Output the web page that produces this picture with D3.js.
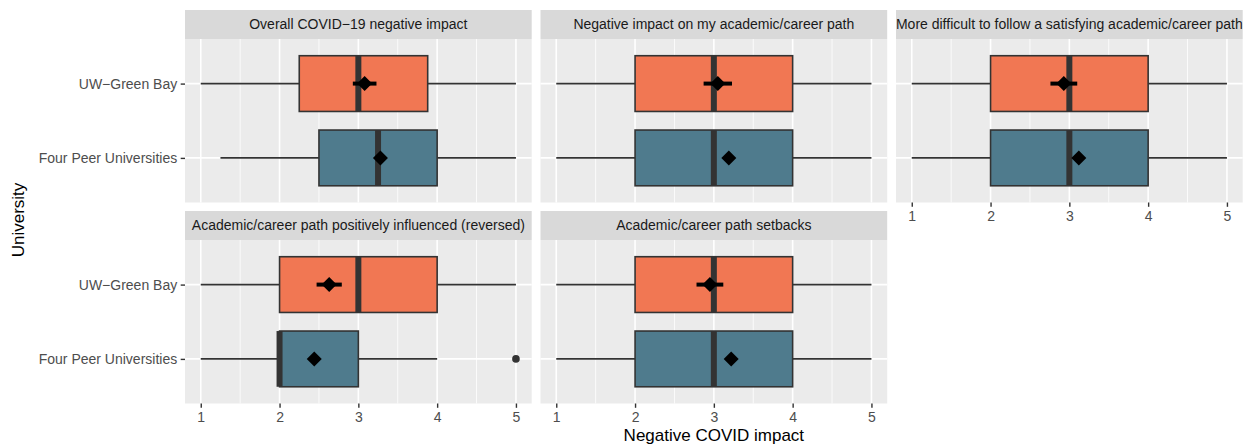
<!DOCTYPE html>
<html><head><meta charset="utf-8">
<script src="https://cdn.jsdelivr.net/npm/d3@7"></script>
<style>body{margin:0;background:#fff}svg{font-family:"Liberation Sans",Arial,Helvetica,sans-serif}</style>
</head><body><svg id="c" width="1250" height="445"></svg>
<script>
const panelTitles = [
  "Overall COVID\u221219 negative impact",
  "Negative impact on my academic/career path",
  "More difficult to follow a satisfying academic/career path",
  "Academic/career path positively influenced (reversed)",
  "Academic/career path setbacks"
];
const universities = ["UW\u2212Green Bay", "Four Peer Universities"];
const fillColors = ["#F17753", "#4F7B8D"];
const xTicks = [1, 2, 3, 4, 5];
const xMinor = [1.5, 2.5, 3.5, 4.5];
// per panel: [UW-Green Bay, Four Peer Universities]
const whiskerLow  = [[1, 1.25], [1, 1], [1, 1], [1, 1], [1, 1]];
const q1          = [[2.25, 2.5], [2, 2], [2, 2], [2, 2], [2, 2]];
const median      = [[3, 3.25], [3, 3], [3, 3], [3, 2], [3, 3]];
const q3          = [[3.88, 4], [4, 4], [4, 4], [4, 3], [4, 4]];
const whiskerHigh = [[5, 5], [5, 5], [5, 5], [5, 4], [5, 5]];
const meanVal     = [[3.08, 3.28], [3.05, 3.19], [2.93, 3.12], [2.63, 2.44], [2.95, 3.22]];
const ciLow       = [[2.93, 3.23], [2.87, 3.14], [2.76, 3.07], [2.47, 2.39], [2.78, 3.17]];
const ciHigh      = [[3.23, 3.33], [3.23, 3.24], [3.10, 3.17], [2.79, 2.49], [3.12, 3.27]];
const outliers    = [[[], []], [[], []], [[], []], [[], [5]], [[], []]];

const svg = d3.select("#c");
const leftX = 185, panelW = 346.7, gapX = 8.8, topY = 10, stripH = 29, plotH = 163.5, gapY = 8.5;
const nCols = 3;
const fontSize = 14;
const defs = svg.append("defs");

panelTitles.forEach((title, i) => {
  const col = i % nCols, row = Math.floor(i / nCols);
  const px = leftX + col * (panelW + gapX);
  const sy = topY + row * (stripH + plotH + gapY);
  const py = sy + stripH;
  const x = d3.scaleLinear().domain([0.8, 5.2]).range([px, px + panelW]);
  const y = d3.scalePoint().domain(universities).range([py, py + plotH]).padding(0.6);
  const boxH = y.step() * 0.75;
  const g = svg.append("g");

  defs.append("clipPath").attr("id", "clip" + i).append("rect")
    .attr("x", px).attr("y", sy).attr("width", panelW).attr("height", stripH);
  g.append("rect").attr("x", px).attr("y", sy).attr("width", panelW).attr("height", stripH).attr("fill", "#D9D9D9");
  g.append("text").attr("clip-path", "url(#clip" + i + ")")
    .attr("x", px + panelW / 2).attr("y", sy + stripH / 2).attr("dy", "0.35em")
    .attr("text-anchor", "middle").attr("font-size", fontSize).attr("fill", "#1A1A1A").text(title);

  g.append("rect").attr("x", px).attr("y", py).attr("width", panelW).attr("height", plotH).attr("fill", "#EBEBEB");
  g.selectAll(".minor").data(xMinor).join("line")
    .attr("x1", d => x(d)).attr("x2", d => x(d)).attr("y1", py).attr("y2", py + plotH)
    .attr("stroke", "#fff").attr("stroke-width", 0.8);
  g.selectAll(".major").data(xTicks).join("line")
    .attr("x1", d => x(d)).attr("x2", d => x(d)).attr("y1", py).attr("y2", py + plotH)
    .attr("stroke", "#fff").attr("stroke-width", 1.6);
  g.selectAll(".ymajor").data(universities).join("line")
    .attr("x1", px).attr("x2", px + panelW).attr("y1", d => y(d)).attr("y2", d => y(d))
    .attr("stroke", "#fff").attr("stroke-width", 1.6);

  universities.forEach((u, j) => {
    const cy = y(u);
    g.append("line").attr("x1", x(whiskerLow[i][j])).attr("x2", x(q1[i][j])).attr("y1", cy).attr("y2", cy)
      .attr("stroke", "#333").attr("stroke-width", 1.6);
    g.append("line").attr("x1", x(q3[i][j])).attr("x2", x(whiskerHigh[i][j])).attr("y1", cy).attr("y2", cy)
      .attr("stroke", "#333").attr("stroke-width", 1.6);
    g.append("rect").attr("x", x(q1[i][j])).attr("width", x(q3[i][j]) - x(q1[i][j]))
      .attr("y", cy - boxH / 2).attr("height", boxH)
      .attr("fill", fillColors[j]).attr("stroke", "#333").attr("stroke-width", 1.6);
    g.append("line").attr("x1", x(median[i][j])).attr("x2", x(median[i][j]))
      .attr("y1", cy - boxH / 2).attr("y2", cy + boxH / 2)
      .attr("stroke", "#333").attr("stroke-width", 6);
    outliers[i][j].forEach(o => {
      g.append("circle").attr("cx", x(o)).attr("cy", cy).attr("r", 3.8).attr("fill", "#333");
    });
    g.append("line").attr("x1", x(ciLow[i][j])).attr("x2", x(ciHigh[i][j])).attr("y1", cy).attr("y2", cy)
      .attr("stroke", "#000").attr("stroke-width", 4);
    const mx = x(meanVal[i][j]), r = 7.5;
    g.append("path").attr("d", `M${mx},${cy - r}L${mx + r},${cy}L${mx},${cy + r}L${mx - r},${cy}Z`).attr("fill", "#000");
  });

  if (col === 0) {
    const ya = g.append("g").attr("transform", `translate(${px},0)`)
      .call(d3.axisLeft(y).tickSize(4.3).tickPadding(3.5));
    ya.select(".domain").remove();
    ya.selectAll(".tick line").attr("stroke", "#333").attr("stroke-width", 1.4);
    ya.selectAll(".tick text").attr("fill", "#4D4D4D").attr("font-size", fontSize).attr("font-family", null);
  }
  const below = i + nCols;
  if (below >= panelTitles.length) {
    const xa = g.append("g").attr("transform", `translate(0,${py + plotH})`)
      .call(d3.axisBottom(x).tickValues(xTicks).tickFormat(d3.format("d")).tickSize(4.3).tickPadding(4.3));
    xa.select(".domain").remove();
    xa.selectAll(".tick line").attr("stroke", "#333").attr("stroke-width", 1.4);
    xa.selectAll(".tick text").attr("fill", "#4D4D4D").attr("font-size", fontSize).attr("font-family", null);
  }
});

const panelsRight = leftX + nCols * panelW + (nCols - 1) * gapX;
svg.append("text").attr("x", (leftX + panelsRight) / 2).attr("y", 441)
  .attr("text-anchor", "middle").attr("font-size", 17).attr("fill", "#000").text("Negative COVID impact");
svg.append("text").attr("transform", "translate(24,220) rotate(-90)")
  .attr("text-anchor", "middle").attr("font-size", 17).attr("fill", "#000").text("University");
</script></body></html>
